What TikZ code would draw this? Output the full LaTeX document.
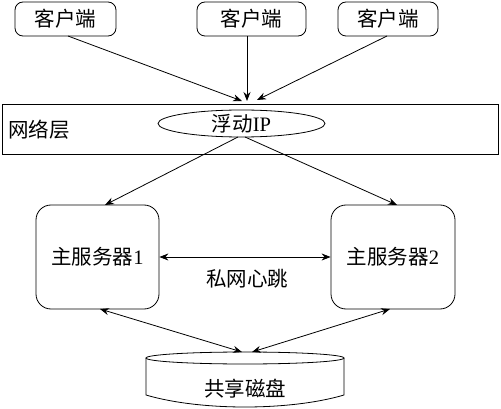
\documentclass[tikz,border=0pt]{standalone}
\usepackage{fontspec}
\setmainfont{Liberation Serif}
\newfontfamily\cjk{Noto Sans CJK SC}
\usetikzlibrary{arrows.meta,shapes.geometric}
\begin{document}
\begin{tikzpicture}[x=1pt,y=-1pt,
  line width=0.8pt,
  every node/.style={font=\fontsize{20.5}{24}\selectfont, inner sep=0pt},
  client/.style={draw, rounded corners=8pt, minimum height=34pt},
  server/.style={draw, rounded corners=15pt, minimum height=104pt},
  arr/.style={-{Stealth[length=9pt,width=7pt,inset=3pt]}},
  darr/.style={{Stealth[length=9pt,width=7pt,inset=3pt]}-{Stealth[length=9pt,width=7pt,inset=3pt]}}]
\useasboundingbox (0,0) rectangle (501,409);
% clients
\node[client, minimum width=101pt] (c1) at (65.5,19) {\cjk 客户端};
\node[client, minimum width=109pt] (c2) at (251.5,19) {\cjk 客户端};
\node[client, minimum width=100pt] (c3) at (388,19) {\cjk 客户端};
% network layer
\node[draw, minimum width=496pt, minimum height=50pt] (net) at (250.5,129) {};
\node (netlabel) at (39,130) {\cjk 网络层};
\node[draw, ellipse, minimum width=167pt, minimum height=27pt] (ip) at (241.5,123.5) {{\cjk 浮动}IP};
% servers
\node[server, minimum width=123pt] (s1) at (97.5,257) {{\cjk 主服务器}1};
\node[server, minimum width=124pt] (s2) at (393,257) {{\cjk 主服务器}2};
% disk
\draw (245,358) ellipse [x radius=99, y radius=6];
\draw (146,358) -- (146,395) .. controls (200,411) and (290,411) .. (344,395) -- (344,358);
\node (disk) at (245,389) {\cjk 共享磁盘};
% connector endpoints
\coordinate (t1) at (242,101);
\coordinate (t2) at (247,101);
\coordinate (t3) at (257,100);
\coordinate (b1) at (238,137);
\coordinate (b2) at (245,137);
\coordinate (s1t) at (105,205);
\coordinate (s2t) at (397,205);
\coordinate (s1b) at (100,309);
\coordinate (s2b) at (390,309);
\coordinate (d1) at (242,352);
\coordinate (d2) at (252,352);
\coordinate (c1b) at (68,36);
\coordinate (c3b) at (387,36);
% connectors
\draw[arr] (c1b) -- (t1);
\draw[arr] (c2.south -| t2) -- (t2);
\draw[arr] (c3b) -- (t3);
\draw[arr] (b1) -- (s1t);
\draw[arr] (b2) -- (s2t);
\draw[darr] (s1.east) -- (s2.west);
\node (hb) at (247,279) {\cjk 私网心跳};
\draw[darr] (s1b) -- (d1);
\draw[darr] (s2b) -- (d2);
\end{tikzpicture}
\end{document}
